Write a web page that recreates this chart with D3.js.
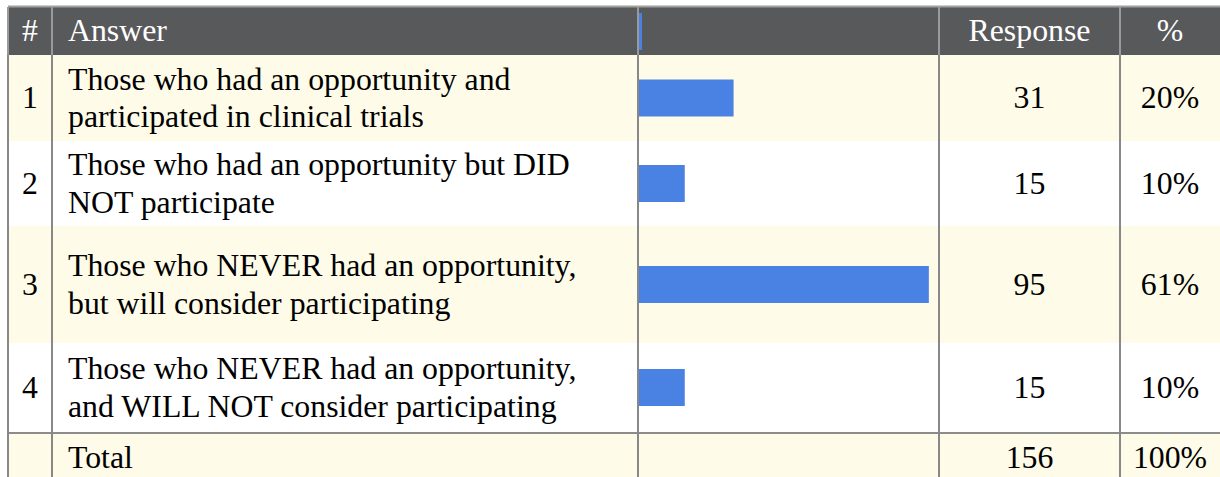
<!DOCTYPE html>
<html>
	<head>
		<script src="https://cdnjs.cloudflare.com/ajax/libs/d3/7.8.5/d3.min.js"></script>
		<style>
			body { margin: 0; background: #fff; }
			text { font-family: "Liberation Serif", "Times New Roman", serif; }
		</style>
	</head>

	<body>
		<div id="chart-area"></div>

		<script>
			var headers = ["#", "Answer", "", "Response", "%"];
			var ids = [1, 2, 3, 4];
			var answers = [
				"Those who had an opportunity and\nparticipated in clinical trials",
				"Those who had an opportunity but DID\nNOT participate",
				"Those who NEVER had an opportunity,\nbut will consider participating",
				"Those who NEVER had an opportunity,\nand WILL NOT consider participating"
			];
			var responses = [31, 15, 95, 15];
			var percents = ["20%", "10%", "61%", "10%"];
			var totalLabel = "Total";
			var totalResponse = 156;
			var totalPercent = "100%";

			var width = 1220;
			var height = 477;

			// layout
			var colEdges = [8, 52, 638, 939, 1120, 1220];
			var headerTop = 7, headerBottom = 55;
			var rowHeights = [86, 85, 117, 89];
			var totalTop = 434;
			var fontSize = 31.8;
			var lineHeight = 37.5;
			var barHeight = 37;

			var rowTops = [];
			var acc = headerBottom;
			rowHeights.forEach(function(h) { rowTops.push(acc); acc += h; });

			var x = d3.scaleLinear()
						.domain([0, 98])
						.range([colEdges[2] + 1, colEdges[3] - 1]);

			var svg = d3.select("#chart-area")
						.append("svg")
						.attr("width", width)
						.attr("height", height);

			function colCenter(i) {
				return (colEdges[i] + colEdges[i + 1]) / 2;
			}

			// draw multi-line text vertically centered on cy
			function addText(g, str, tx, cy, anchor, fill) {
				var lines = String(str).split("\n");
				var capH = fontSize * 0.66;
				var t = g.append("text")
						.attr("font-family", "Liberation Serif")
						.attr("font-size", fontSize + "px")
						.attr("fill", fill)
						.attr("text-anchor", anchor);
				t.selectAll("tspan")
					.data(lines)
					.enter()
					.append("tspan")
					.attr("x", tx)
					.attr("y", function(d, i) {
						return cy + capH / 2 + (i - (lines.length - 1) / 2) * lineHeight;
					})
					.text(function(d) { return d; });
			}

			// header
			svg.append("rect")
				.attr("x", colEdges[0])
				.attr("y", headerTop)
				.attr("width", width - colEdges[0])
				.attr("height", headerBottom - headerTop)
				.attr("fill", "#58595b");

			svg.append("line")
				.attr("x1", colEdges[0]).attr("x2", width)
				.attr("y1", headerTop - 0.5).attr("y2", headerTop - 0.5)
				.attr("stroke", "#a0a0a0").attr("stroke-width", 2);

			var headerG = svg.append("g");
			var hc = (headerTop + headerBottom) / 2;
			addText(headerG, headers[0], colCenter(0), hc, "middle", "#fff");
			addText(headerG, headers[1], colEdges[1] + 16, hc, "start", "#fff");
			addText(headerG, headers[3], colCenter(3), hc, "middle", "#fff");
			addText(headerG, headers[4], colCenter(4), hc, "middle", "#fff");

			// tiny header bar marker
			svg.append("rect")
				.attr("x", x(0))
				.attr("y", headerTop + 6)
				.attr("width", 3)
				.attr("height", 37)
				.attr("fill", "#4a82e4");

			// body rows
			var rows = svg.selectAll("g.row")
							.data(ids)
							.enter()
							.append("g")
							.attr("class", "row");

			rows.append("rect")
				.attr("x", colEdges[0])
				.attr("y", function(d, i) { return rowTops[i]; })
				.attr("width", width - colEdges[0])
				.attr("height", function(d, i) { return rowHeights[i]; })
				.attr("fill", function(d, i) { return i % 2 == 0 ? "#fefce8" : "#ffffff"; });

			rows.append("rect")
				.attr("x", x(0))
				.attr("y", function(d, i) { return rowTops[i] + (rowHeights[i] - barHeight) / 2; })
				.attr("width", function(d, i) { return x(responses[i]) - x(0); })
				.attr("height", barHeight)
				.attr("fill", "#4a82e4");

			rows.each(function(d, i) {
				var g = d3.select(this);
				var cy = rowTops[i] + rowHeights[i] / 2;
				addText(g, d, colCenter(0), cy, "middle", "#000");
				addText(g, answers[i], colEdges[1] + 16, cy, "start", "#000");
				addText(g, responses[i], colCenter(3), cy, "middle", "#000");
				addText(g, percents[i], colCenter(4), cy, "middle", "#000");
			});

			// total row
			svg.append("rect")
				.attr("x", colEdges[0])
				.attr("y", totalTop)
				.attr("width", width - colEdges[0])
				.attr("height", height - totalTop)
				.attr("fill", "#fefce8");

			svg.append("line")
				.attr("x1", colEdges[0]).attr("x2", width)
				.attr("y1", totalTop - 1).attr("y2", totalTop - 1)
				.attr("stroke", "#8c8c8c").attr("stroke-width", 2);

			var totalG = svg.append("g");
			var tc = totalTop + 24;
			addText(totalG, totalLabel, colEdges[1] + 16, tc, "start", "#000");
			addText(totalG, totalResponse, colCenter(3), tc, "middle", "#000");
			addText(totalG, totalPercent, colCenter(4), tc, "middle", "#000");

			// vertical column lines
			svg.selectAll("line.col")
				.data(colEdges.slice(0, 5))
				.enter()
				.append("line")
				.attr("class", "col")
				.attr("x1", function(d) { return d; })
				.attr("x2", function(d) { return d; })
				.attr("y1", headerTop)
				.attr("y2", headerBottom)
				.attr("stroke", "#9a9a9a")
				.attr("stroke-width", 2);

			svg.selectAll("line.colbody")
				.data(colEdges.slice(0, 5))
				.enter()
				.append("line")
				.attr("class", "colbody")
				.attr("x1", function(d) { return d; })
				.attr("x2", function(d) { return d; })
				.attr("y1", headerBottom)
				.attr("y2", height)
				.attr("stroke", "#888888")
				.attr("stroke-width", 2);
		</script>
	</body>
</html>
